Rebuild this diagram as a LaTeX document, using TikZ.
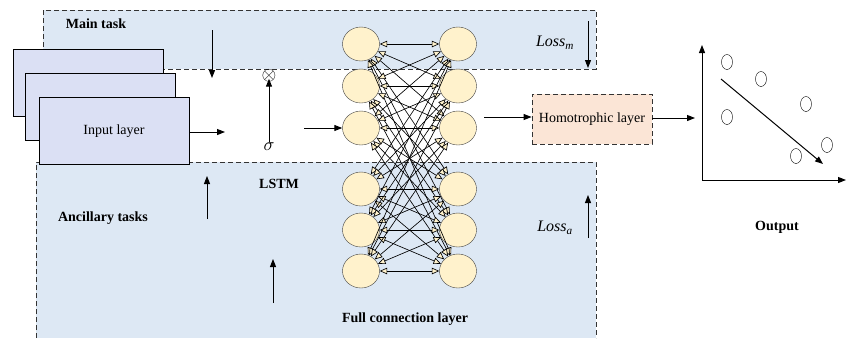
\documentclass[tikz,border=0pt]{standalone}
\usepackage{fontspec}
\setmainfont{Liberation Serif}
\usetikzlibrary{arrows.meta,shapes.geometric}

\definecolor{taskblue}{HTML}{DDE8F4}
\definecolor{inputblue}{HTML}{DBE0F4}
\definecolor{neuronyellow}{HTML}{FFF2CC}
\definecolor{homopeach}{HTML}{FBE5D6}

\begin{document}
\begin{tikzpicture}[x=1pt, y=-1pt, >={Triangle[length=8pt,width=6pt]},
	taskbox/.style={fill=taskblue, draw=black!80, dash pattern=on 5pt off 3pt, line width=0.8pt},
	inputbox/.style={draw, fill=inputblue, line width=0.8pt, minimum width=150pt, minimum height=67pt},
	neuron/.style={draw=black!75, fill=neuronyellow, ellipse, minimum width=37pt, minimum height=34pt, inner sep=0pt},
	dot/.style={draw, ellipse, minimum width=11pt, minimum height=15pt, inner sep=0pt},
	tag/.style={font=\bfseries\fontsize{14}{16}\selectfont},
	lossarrow/.style={->, line width=1pt},
	link/.style={{Triangle[length=7.5pt,width=6.5pt,fill=neuronyellow]}-{Triangle[length=7.5pt,width=6.5pt,fill=neuronyellow]}, line width=0.65pt}
]
\useasboundingbox (0,0) rectangle (846,338);

% task areas
\path[taskbox] (43,10) rectangle (596,69);
\fill[taskblue] (36,338) -- (36,162) -- (596,162) -- (596,338);
\draw[taskbox, fill=none] (36,338) -- (36,162) -- (596,162) -- (596,338);

\node[tag] (main) at (96,24) {Main task};
\node[tag] (anc) at (103,218) {Ancillary tasks};
\node[tag] (lstm) at (279,184) {LSTM};
\node[tag] (full) at (405,319) {Full connection layer};
\node[tag] (out) at (777,227) {Output};

% input layer
\node[inputbox] (in1) at (88,83) {};
\node[inputbox] (in2) at (100,107) {};
\node[inputbox, font=\fontsize{14}{16}\selectfont] (in3) at (114,131) {Input layer};

% LSTM gate
\node[scale=1.9, inner sep=0pt] (mul) at (269,76) {$\otimes$};
\node[scale=1.8, inner sep=0.5pt] (sig) at (269,147) {$\sigma$};
\coordinate (lstmin) at (225,132);
\coordinate (maintop) at (212,30);
\coordinate (mainbot) at (212,78);
\coordinate (anc1a) at (207,219);
\coordinate (anc1b) at (207,176);
\coordinate (anc2a) at (273,303);
\coordinate (anc2b) at (273,259);
\draw[lossarrow] (in3.east |- lstmin) -- (lstmin);
\draw[lossarrow] (maintop) -- (mainbot);
\draw[lossarrow] (sig.north) -- ([yshift=4pt]mul.south);
\draw[lossarrow] (anc1a) -- (anc1b);
\draw[lossarrow] (anc2a) -- (anc2b);

% full connection layer
\foreach \i/\y in {1/44,2/86,3/128,4/189,5/230,6/271} {
	\node[neuron] (L\i) at (361,\y) {};
	\node[neuron] (R\i) at (458,\y) {};
}
\foreach \i in {1,...,6}
	\foreach \j in {1,...,6}
		\draw[link] (L\i) -- (R\j);
\coordinate (fcin) at (304,128);
\draw[lossarrow] (fcin) -- (L3.west);

% losses
\node[font=\itshape\fontsize{16}{18}\selectfont] (lossm) at (555,43) {Loss\textsubscript{m}};
\node[font=\itshape\fontsize{16}{18}\selectfont] (lossa) at (555,228) {Loss\textsubscript{a}};
\coordinate (lmtop) at (588,21);
\coordinate (lmbot) at (588,68);
\coordinate (labot) at (588,238);
\coordinate (latop) at (588,195);
\draw[lossarrow] (lmtop) -- (lmbot);
\draw[lossarrow] (labot) -- (latop);

% homotrophic layer
\node[draw=black!80, dash pattern=on 5pt off 3pt, line width=0.8pt, fill=homopeach,
	minimum width=120pt, minimum height=50pt, font=\fontsize{14}{16}\selectfont] (hom) at (592,119) {Homotrophic layer};
\coordinate (fcout) at (484,117);
\draw[lossarrow] (fcout) -- (hom.west |- fcout);

% output plot
\coordinate (origin) at (702,180);
\coordinate (yend) at (702,45);
\coordinate (xend) at (846,180);
\coordinate (plotin) at (695,118);
\draw[lossarrow] (hom.east |- plotin) -- (plotin);
\draw[lossarrow] (origin) -- (yend);
\draw[lossarrow] (origin) -- (xend);
\foreach \n/\x/\y in {a/727/62, b/761/79, c/806/104, d/727/117, e/796/156, f/827/145}
	\node[dot] (p\n) at (\x,\y) {};
\coordinate (trendA) at (721,79);
\coordinate (trendB) at (823,164);
\draw[lossarrow] (trendA) -- (trendB);
\end{tikzpicture}
\end{document}
